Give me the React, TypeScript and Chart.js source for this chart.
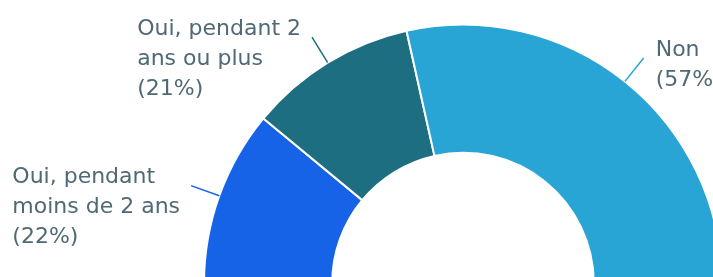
import React, { useEffect, useRef } from 'react';
import { Chart, registerables } from 'chart.js';
Chart.register(...registerables);

const categories: string[][] = [["Oui, pendant", "moins de 2 ans"], ["Oui, pendant 2", "ans ou plus"], ["Non"]];
const values: number[] = [22, 21, 57];
const colors: string[] = ["#1763E8", "#1C6E80", "#28A4D5"];
const textColor = "#4F6975";

const leaderLabels = {
  id: 'leaderLabels',
  afterDatasetsDraw(chart: any) {
    const ctx = chart.ctx as CanvasRenderingContext2D;
    const meta = chart.getDatasetMeta(0);
    ctx.save();
    ctx.font = '22px "DejaVu Sans"';
    ctx.textBaseline = 'middle';
    ctx.textAlign = 'left';
    meta.data.forEach((arc: any, i: number) => {
      const p = arc.getProps(['x', 'y', 'startAngle', 'endAngle', 'outerRadius'], true);
      const a = (p.startAngle + p.endAngle) / 2;
      const sx = p.x + Math.cos(a) * p.outerRadius;
      const sy = p.y + Math.sin(a) * p.outerRadius;
      const ex = p.x + Math.cos(a) * (p.outerRadius + 30);
      const ey = p.y + Math.sin(a) * (p.outerRadius + 30);
      ctx.strokeStyle = colors[i];
      ctx.lineWidth = 1.5;
      ctx.beginPath();
      ctx.moveTo(sx, sy);
      ctx.lineTo(ex, ey);
      ctx.stroke();
      const lines = [...categories[i], `(${values[i]}%)`];
      const w = Math.max(...lines.map((l) => ctx.measureText(l).width));
      const left = Math.cos(a) >= 0 ? ex + 12 : ex - 11 - w;
      ctx.fillStyle = textColor;
      lines.forEach((l, k) => ctx.fillText(l, left, ey - 8 + k * 30));
    });
    ctx.restore();
  },
};

export default function App() {
  const ref = useRef<HTMLCanvasElement>(null);
  useEffect(() => {
    if (!ref.current) return;
    const chart = new Chart(ref.current, {
      type: 'doughnut',
      data: {
        labels: categories.map((c) => c.join(' ')),
        datasets: [
          {
            data: values,
            backgroundColor: colors,
            borderColor: '#ffffff',
            borderWidth: 2,
          },
        ],
      },
      options: {
        responsive: false,
        animation: false,
        rotation: -90,
        circumference: 180,
        radius: 259,
        cutout: '50.5%',
        layout: { padding: 0 },
        plugins: { legend: { display: false }, tooltip: { enabled: false } },
      },
      plugins: [leaderLabels],
    } as any);
    return () => chart.destroy();
  }, []);
  return (
    <div style={{ position: 'fixed', left: 0, top: 0, width: 713, height: 277, overflow: 'hidden', background: '#fff' }}>
      <canvas ref={ref} width={926} height={308} style={{ display: 'block', width: 926, height: 308 }} />
    </div>
  );
}
